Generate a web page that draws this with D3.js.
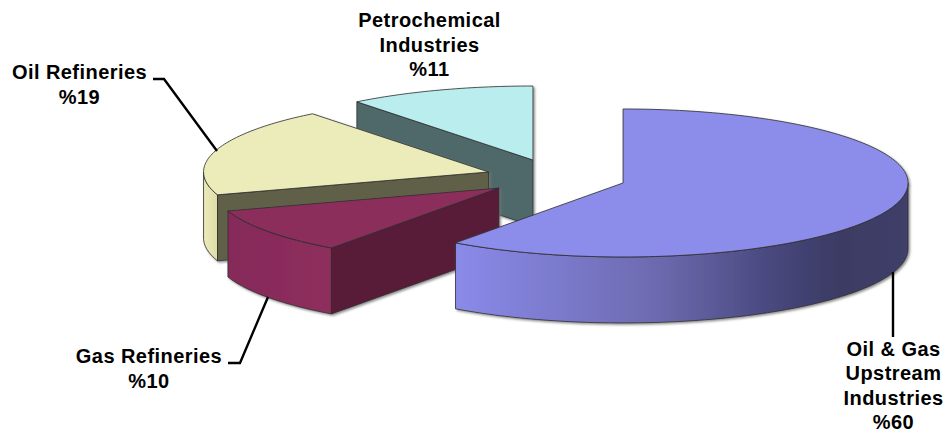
<!DOCTYPE html>
<html><head><meta charset="utf-8">
<script src="https://cdn.jsdelivr.net/npm/d3@7"></script>
<style>html,body{margin:0;padding:0;background:#fff}svg{display:block}</style></head>
<body><svg id="c" width="947" height="433"></svg>
<script>
// Data, clockwise from 12 o'clock
const categories = ["Oil & Gas Upstream Industries","Gas Refineries","Oil Refineries","Petrochemical Industries"];
const values = [60, 10, 19.4, 10.6];
const topColors = ["#8c8ceb","#8b2e5c","#ecebba","#baeeee"];
const faceColors = ["#3c3c66","#591c38","#616148","#50696a"];
const wallStops = [
  [["0","#8a8aea"],["0.45","#6c6aae"],["0.72","#46457a"],["0.85","#3b3b63"],["1","#3f3f6a"]],
  [["0","#85295a"],["1","#8e2f5c"]],
  [["0","#ecebba"],["1","#dedca6"]],
  [["0","#baeeee"],["1","#baeeee"]]
];
const labelLines = [["Oil & Gas","Upstream","Industries"],["Gas Refineries"],["Oil Refineries"],["Petrochemical","Industries"]];
const labelAnchors = [[893.5,348.5],[149,356],[79.5,72],[429.5,20]];
const leaders = [
  [[893,272],[893,337]],
  [[268,297],[240,363],[228,363]],
  [[217,151],[164,79],[153,79]],
  []
];

// Projection
const cx = 556, cy = 177.3, R = 285, tilt = 74/285, depth = 66, explode = 70.5;
const tau = 2*Math.PI;
const svg = d3.select("#c");
const defs = svg.append("defs");
const f = defs.append("filter").attr("id","sh").attr("x","-5%").attr("y","-5%").attr("width","112%").attr("height","115%");
f.append("feDropShadow").attr("dx",1.5).attr("dy",1.5).attr("stdDeviation",0.9).attr("flood-color","#777").attr("flood-opacity",0.85);

const pie = d3.pie().sort(null).startAngle(0).endAngle(tau);
const arcs = pie(values);
const line = d3.line().x(d=>d[0]).y(d=>d[1]);

const xS = d3.scaleLinear().domain([-1,1]);
const yS = d3.scaleLinear().domain([-1,1]);

// back-to-front painting order
const order = [3,2,1,0];
order.forEach(i=>{
  const a = arcs[i], mid = (a.startAngle+a.endAngle)/2;
  const ox = cx + explode*Math.sin(mid), oy = cy - explode*tilt*Math.cos(mid);
  xS.range([ox-R,ox+R]); yS.range([oy-R*tilt,oy+R*tilt]);
  const P = (t,dz=0)=>[xS(Math.sin(t)), yS(-Math.cos(t))+dz];
  const sample = (s,e)=>{const n=Math.max(2,Math.ceil((e-s)/0.02));return d3.range(n+1).map(k=>s+(e-s)*k/n);};
  const g = svg.append("g").attr("filter","url(#sh)");
  const stroke = "#2c2c2c", sw = 0.8;

  // outer curved wall (visible part: lower half of the ellipse)
  const ws = Math.max(a.startAngle, tau/4), we = Math.min(a.endAngle, 3*tau/4);
  if (we>ws){
    const ts = sample(ws,we);
    const pts = ts.map(t=>P(t,0)).concat(ts.slice().reverse().map(t=>P(t,depth)));
    const xa = d3.extent(ts.map(t=>P(t)[0]));
    const id = "w"+i;
    const lg = defs.append("linearGradient").attr("id",id).attr("gradientUnits","userSpaceOnUse")
      .attr("x1",xa[0]).attr("x2",xa[1]).attr("y1",0).attr("y2",0);
    wallStops[i].forEach(s=>lg.append("stop").attr("offset",s[0]).attr("stop-color",s[1]));
    g.append("path").attr("d",line(pts)+"Z").attr("fill",`url(#${id})`).attr("stroke",stroke).attr("stroke-width",sw);
  }
  // radial cut face at the start angle, when it faces the viewer
  if (Math.cos(a.startAngle - tau/4) < -1e-6){
    const o=[ox,oy], p=P(a.startAngle);
    g.append("path").attr("d",line([o,p,[p[0],p[1]+depth],[ox,oy+depth]])+"Z")
      .attr("fill",faceColors[i]).attr("stroke",stroke).attr("stroke-width",sw);
  }
  // top face
  const top = [[ox,oy]].concat(sample(a.startAngle,a.endAngle).map(t=>P(t)));
  g.append("path").attr("d",line(top)+"Z").attr("fill",topColors[i]).attr("stroke",stroke).attr("stroke-width",sw).attr("stroke-linejoin","round");
});

// Leaders
leaders.forEach(l=>{ if(l.length) svg.append("path").attr("d",line(l)).attr("fill","none").attr("stroke","#000").attr("stroke-width",2.4).attr("stroke-linejoin","miter"); });

// Labels
const pct = d3.format(".0f");
categories.forEach((c,i)=>{
  const [x,y]=labelAnchors[i];
  const t = svg.append("text").attr("text-anchor","middle").attr("font-family","'Liberation Sans',Arial,sans-serif")
    .attr("font-weight","bold").attr("font-size",20).attr("letter-spacing",0.45).attr("fill","#000");
  labelLines[i].concat(["%"+pct(values[i])]).forEach((s,k)=>{
    t.append("tspan").attr("x",x).attr("y",y+k*24.4).attr("dy","0.36em").text(s);
  });
});
</script></body></html>
